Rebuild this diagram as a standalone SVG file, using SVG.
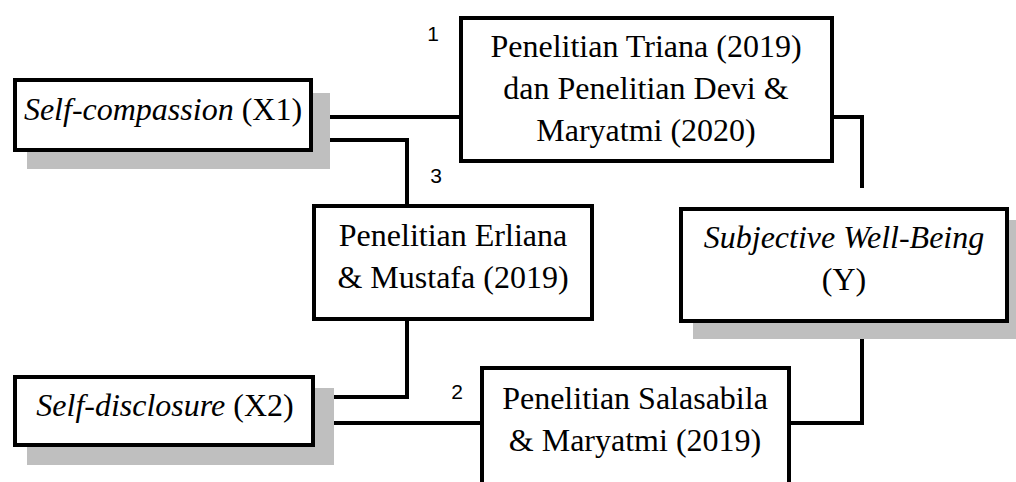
<svg xmlns="http://www.w3.org/2000/svg" width="1016" height="482" viewBox="0 0 1016 482">
<style>
.box{fill:#fff;stroke:#000;stroke-width:4}
.shadow{fill:#bfbfbf}
.t{font-family:"Liberation Serif","Times New Roman",serif;font-size:32px;fill:#000;text-anchor:middle}
.i{font-style:italic}
.n{font-family:"Liberation Sans",Arial,sans-serif;font-size:21px;fill:#000;text-anchor:middle}
.c{fill:none;stroke:#000;stroke-width:4}
</style>
<rect width="1016" height="482" fill="#fff"/>
<g id="connectors">
<path class="c" d="M321 117 H461"/>
<path class="c" d="M313 140 H407 V206"/>
<path class="c" d="M832 117 H862 V188"/>
<path class="c" d="M407 320 V397 H312"/>
<path class="c" d="M320 423 H482"/>
<path class="c" d="M862 327 V423 H789"/>
</g>
<g id="labels">
<text class="n" x="433" y="41">1</text>
<text class="n" x="436" y="183">3</text>
<text class="n" x="457" y="399">2</text>
</g>
<g id="node-x1">
<rect class="shadow" x="27" y="93" width="303" height="76"/>
<rect class="box" x="15" y="80" width="296" height="70"/>
<text class="t" x="163" y="120"><tspan class="i">Self-compassion</tspan> (X1)</text>
</g>
<g id="node-x2">
<rect class="shadow" x="27" y="388" width="307" height="77"/>
<rect class="box" x="15" y="377" width="298" height="68"/>
<text class="t" x="165" y="416"><tspan class="i">Self-disclosure</tspan> (X2)</text>
</g>
<g id="node-y">
<rect class="shadow" x="693" y="220" width="330" height="119"/>
<rect class="box" x="681" y="209" width="326" height="112"/>
<text class="t" x="844" y="248"><tspan class="i">Subjective Well-Being</tspan></text>
<text class="t" x="844" y="290">(Y)</text>
</g>
<g id="node-triana">
<rect class="box" x="461" y="18" width="371" height="143"/>
<text class="t" x="646" y="57">Penelitian Triana (2019)</text>
<text class="t" x="646" y="99">dan Penelitian Devi &amp;</text>
<text class="t" x="646" y="141">Maryatmi (2020)</text>
</g>
<g id="node-erliana">
<rect class="box" x="314" y="206" width="278" height="113"/>
<text class="t" x="453" y="246">Penelitian Erliana</text>
<text class="t" x="453" y="288">&amp; Mustafa (2019)</text>
</g>
<g id="node-salasabila">
<rect class="box" x="482" y="368" width="307" height="130"/>
<text class="t" x="635" y="409">Penelitian Salasabila</text>
<text class="t" x="635" y="451">&amp; Maryatmi (2019)</text>
</g>
</svg>
